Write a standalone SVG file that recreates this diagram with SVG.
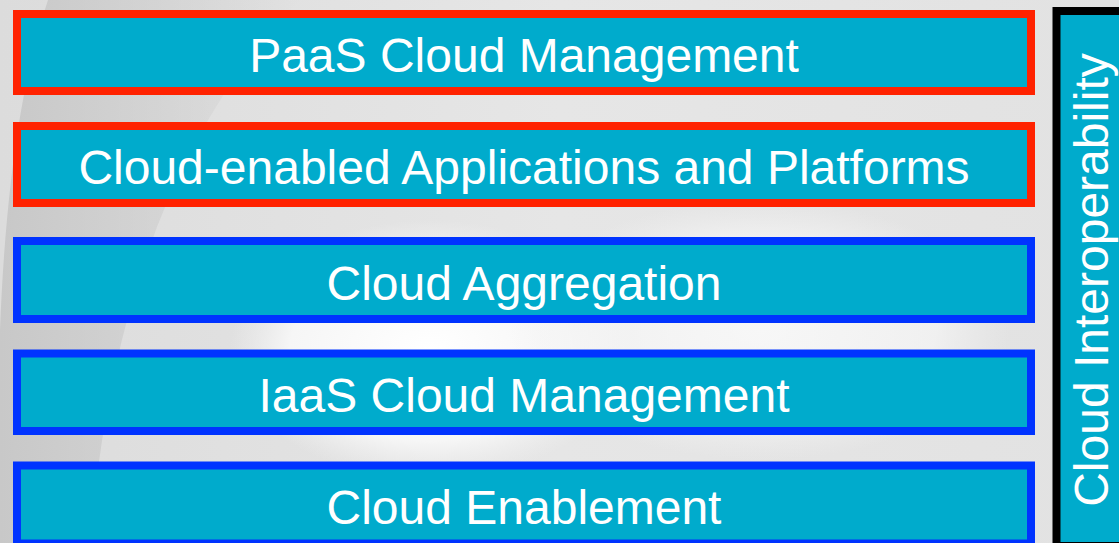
<svg xmlns="http://www.w3.org/2000/svg" width="1119" height="543" viewBox="0 0 1119 543">
<style>
.box{fill:#00abcc;stroke-width:8}
.red{stroke:#ff2200}
.blue{stroke:#0033ff}
.lbl{font-family:"Liberation Sans",Arial,sans-serif;font-size:48px;fill:#ffffff;text-anchor:middle}
</style>
<defs>
<linearGradient id="bg" x1="0" y1="0" x2="1" y2="0">
<stop offset="0" stop-color="#dcdcdc"/>
<stop offset="0.5" stop-color="#e6e6e6"/>
<stop offset="1" stop-color="#e2e2e2"/>
</linearGradient>
<linearGradient id="swoosh" x1="0" y1="0" x2="1" y2="0">
<stop offset="0" stop-color="#c8c8c8"/>
<stop offset="1" stop-color="#c8c8c8" stop-opacity="0"/>
</linearGradient>
<radialGradient id="glow" cx="0.5" cy="0.5" r="0.5">
<stop offset="0" stop-color="#ffffff"/>
<stop offset="0.7" stop-color="#f6f6f6"/>
<stop offset="1" stop-color="#f0f0f0" stop-opacity="0"/>
</radialGradient>
</defs>
<g id="background">
<rect x="0" y="0" width="1119" height="543" fill="url(#bg)"/>
<path d="M48,0 L300,0 Q120,180 90,543 L0,543 L0,330 Q8,120 48,0 Z" fill="url(#swoosh)"/>
<ellipse cx="430" cy="350" rx="200" ry="130" fill="url(#glow)"/>
<ellipse cx="760" cy="330" rx="250" ry="130" fill="url(#glow)" opacity="0.7"/>
</g>
<g id="paas-mgmt">
<rect class="box red" x="17" y="14" width="1014" height="77"/>
<text class="lbl" x="524" y="72">PaaS Cloud Management</text>
</g>
<g id="cloud-apps">
<rect class="box red" x="17" y="126" width="1014" height="77"/>
<text class="lbl" x="524" y="184">Cloud-enabled Applications and Platforms</text>
</g>
<g id="cloud-aggregation">
<rect class="box blue" x="17" y="241" width="1014" height="78"/>
<text class="lbl" x="524" y="300">Cloud Aggregation</text>
</g>
<g id="iaas-mgmt">
<rect class="box blue" x="17" y="353.5" width="1014" height="77.5"/>
<text class="lbl" x="524" y="412">IaaS Cloud Management</text>
</g>
<g id="cloud-enablement">
<rect class="box blue" x="17" y="465.5" width="1014" height="78"/>
<text class="lbl" x="524" y="524">Cloud Enablement</text>
</g>
<g id="cloud-interop">
<rect x="1056.5" y="11" width="80" height="535" fill="#00abcc" stroke="#000000" stroke-width="8"/>
<text class="lbl" transform="translate(1108,280) rotate(-90)" x="0" y="0">Cloud Interoperability</text>
</g>
<g id="connectors"/>
</svg>
